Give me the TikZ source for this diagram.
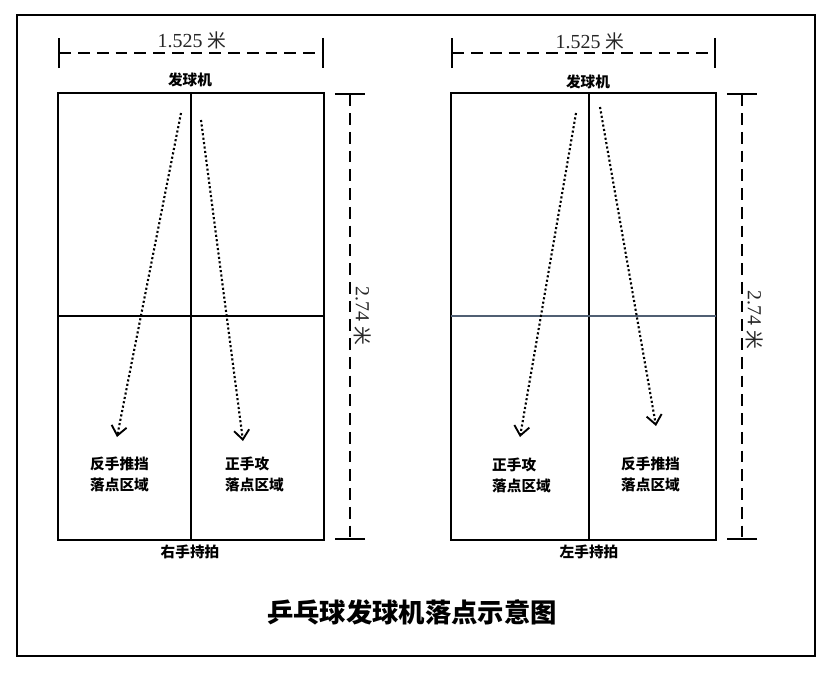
\documentclass[tikz,border=0pt]{standalone}
\usepackage{fontspec}
\setmainfont{Liberation Serif}
\newfontfamily\cjk{Noto Sans CJK SC}
\usetikzlibrary{arrows.meta}
\tikzset{edge/.style={line width=1.8pt}}
\tikzset{dim/.style={line width=1.7pt,dash pattern=on 10pt off 6pt,{Bar[width=26pt,line width=1.7pt]}-{Bar[width=26pt,line width=1.7pt]}}}
\tikzset{shot/.style={line width=1.8pt,dotted,-{Straight Barb[length=8pt,width=13pt,line width=1.6pt]}}}
\tikzset{lbl/.style={font=\cjk\bfseries\fontsize{12.5}{18}\selectfont,align=left,anchor=west,inner sep=0pt}}
\tikzset{tag/.style={font=\cjk\bfseries\fontsize{12.5}{14}\selectfont,inner sep=0pt}}
\tikzset{len/.style={font=\fontsize{17}{18}\selectfont,text=black!85,inner sep=0pt}}

\begin{document}
\begin{tikzpicture}[x=0.3mm,y=-0.3mm]
\useasboundingbox (0,0) rectangle (836,676);
\draw[edge] (17,15) rectangle (815,656);

% right hand
\coordinate (NW1) at (58,93);
\coordinate (SE1) at (324,540);
\coordinate (N1) at (191,93);
\coordinate (S1) at (191,540);
\coordinate (W1) at (58,316);
\coordinate (E1) at (324,316);
\draw[edge] (NW1) rectangle (SE1);
\draw[edge] (N1) -- (S1);
\draw[edge] (W1) -- (E1);

\coordinate (L1) at (58,53);
\coordinate (R1) at (324,53);
\draw[dim] (L1) -- (R1);
\node[len] (w1) at (192,40) {1.525 {\cjk\fontsize{16}{18}\selectfont 米}};
\coordinate (T1) at (350,93);
\coordinate (B1) at (350,540);
\draw[dim] (T1) -- (B1);
\node[len,rotate=-90] (h1) at (363,316) {2.74 {\cjk\fontsize{16}{18}\selectfont 米}};

\node[tag] (gun1) at (190,80) {发球机};
\node[tag] (hand1) at (190,552) {右手持拍};

\coordinate (a1) at (181,113);
\coordinate (a2) at (117,437);
\coordinate (b1) at (201,120);
\coordinate (b2) at (243,441);
\draw[shot] (a1) -- (a2);
\draw[shot] (b1) -- (b2);
\node[lbl] (back1) at (90,474) {反手推挡\\落点区域};
\node[lbl] (fore1) at (225,474) {正手攻\\落点区域};

% left hand
\coordinate (NW2) at (451,93);
\coordinate (SE2) at (716,540);
\coordinate (N2) at (589,93);
\coordinate (S2) at (589,540);
\coordinate (W2) at (451,316);
\coordinate (E2) at (716,316);
\draw[edge] (NW2) rectangle (SE2);
\draw[edge] (N2) -- (S2);
\draw[edge,color={rgb,255:red,80;green,95;blue,115}] (W2) -- (E2);

\coordinate (L2) at (451,53);
\coordinate (R2) at (716,53);
\draw[dim] (L2) -- (R2);
\node[len] (w2) at (590,41) {1.525 {\cjk\fontsize{16}{18}\selectfont 米}};
\coordinate (T2) at (742,93);
\coordinate (B2) at (742,540);
\draw[dim] (T2) -- (B2);
\node[len,rotate=-90] (h2) at (755,320) {2.74 {\cjk\fontsize{16}{18}\selectfont 米}};

\node[tag] (gun2) at (588,82) {发球机};
\node[tag] (hand2) at (589,552) {左手持拍};

\coordinate (c1) at (576,113);
\coordinate (c2) at (520,437);
\coordinate (d1) at (600,107);
\coordinate (d2) at (656,426);
\draw[shot] (c1) -- (c2);
\draw[shot] (d1) -- (d2);
\node[lbl] (fore2) at (492,475) {正手攻\\落点区域};
\node[lbl] (back2) at (621,474) {反手推挡\\落点区域};

\node[font=\cjk\bfseries\fontsize{22.5}{26}\selectfont] (title) at (412,612) {乒乓球发球机落点示意图};
\end{tikzpicture}
\end{document}
